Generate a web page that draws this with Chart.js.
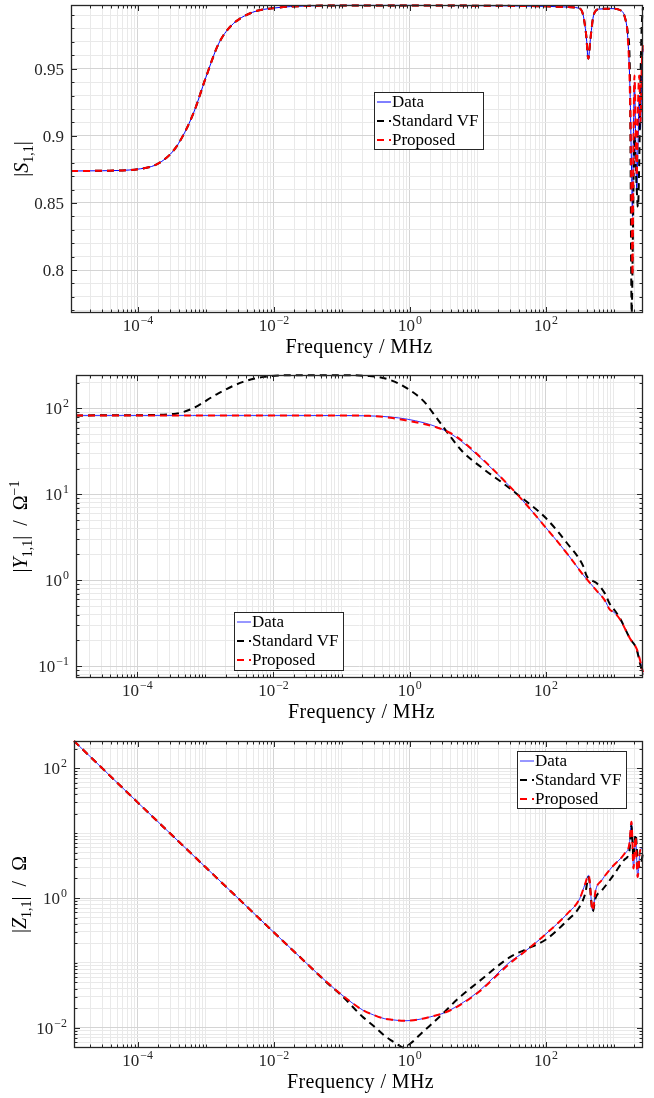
<!DOCTYPE html>
<html>
<head>
<meta charset="utf-8">
<title>|S11|, |Y11|, |Z11| vs frequency</title>
<script src="https://cdn.jsdelivr.net/npm/chart.js@4.4.1/dist/chart.umd.min.js"></script>
<style>
  html, body { margin: 0; padding: 0; background: #fff; }
  .panel { position: absolute; left: 0; width: 654px; height: 366px; }
  canvas { display: block; }
</style>
</head>
<body>
<div class="panel" style="top:0"><canvas id="s11" width="654" height="366"></canvas></div>
<div class="panel" style="top:366px"><canvas id="y11" width="654" height="366"></canvas></div>
<div class="panel" style="top:732px"><canvas id="z11" width="654" height="366"></canvas></div>
<script>
// ---- |S11| (linear) ----
const s11Freq = [1.035e-5, 3e-5, 1e-4, 2.09e-4, 3.68e-4, 6.5e-4, 1e-3, 1.53e-3, 2.34e-3, 4.8e-3,
  1.03e-2, 3e-2, 0.1, 1, 10, 100, 200, 299, 350, 390,
  419, 450, 490, 525, 620, 925, 1297, 1452, 1585, 1718,
  1820, 1870, 1930, 2000, 2080, 2160, 2250, 2350, 2450, 2550, 2670];
const s11Data = [0.8738, 0.8740, 0.8752, 0.8800, 0.8920, 0.9165, 0.9438, 0.9685, 0.982, 0.992,
  0.9953, 0.9968, 0.9972, 0.9972, 0.997, 0.9965, 0.996, 0.9952, 0.9905, 0.975,
  0.9575, 0.972, 0.9875, 0.9925, 0.9945, 0.9948, 0.993, 0.988, 0.975, 0.935,
  0.87, 0.84, 0.90, 0.94, 0.90, 0.86, 0.89, 0.93, 0.905, 0.945, 0.965];
const s11StdVF = [0.8738, 0.8740, 0.8752, 0.8800, 0.8920, 0.9165, 0.9438, 0.9685, 0.982, 0.992,
  0.9953, 0.9968, 0.9972, 0.9972, 0.997, 0.9965, 0.996, 0.9952, 0.9905, 0.975,
  0.9575, 0.972, 0.9875, 0.9925, 0.9945, 0.9948, 0.993, 0.988, 0.978, 0.945,
  0.768, 0.80, 0.86, 0.90, 0.88, 0.86, 0.847, 0.88, 0.94, 0.98, 0.996];
const s11Proposed = [0.8738, 0.8740, 0.8752, 0.8800, 0.8920, 0.9165, 0.9438, 0.9685, 0.982, 0.992,
  0.9953, 0.9968, 0.9972, 0.9972, 0.997, 0.9965, 0.996, 0.9952, 0.9905, 0.975,
  0.9575, 0.972, 0.9875, 0.9925, 0.9945, 0.9948, 0.993, 0.988, 0.975, 0.93,
  0.84, 0.796, 0.89, 0.945, 0.91, 0.87, 0.92, 0.945, 0.91, 0.95, 0.97];
const s11TickValues = [0.8, 0.85, 0.9, 0.95];
const s11TickLabels = ['0.8', '0.85', '0.9', '0.95'];

// ---- |Y11| (log) ----
const y11Freq = [1.26e-5, 1e-4, 3.68e-4, 6.5e-4, 1.53e-3, 3.58e-3, 7.3e-3, 1.98e-2, 8.2e-2, 0.255,
  0.522, 0.92, 1.63, 2.5, 3.82, 5.86, 11.9, 24.3, 42.9, 100,
  205, 355, 398, 450, 555, 738, 870, 1000, 1230, 1720, 2150, 2400, 2670];
const y11Data = [83, 83, 83, 83, 83, 83, 83, 83, 82.8, 82,
  79.5, 75, 68, 61, 52, 41, 25, 14.5, 9.0, 4.1,
  2.05, 1.15, 1.03, 0.92, 0.76, 0.58, 0.455, 0.425, 0.35, 0.21, 0.16, 0.12, 0.085];
const y11StdVF = [83, 83.5, 87, 100, 149, 204, 233, 244, 244, 238,
  214, 171, 120, 77, 49, 32, 20, 13.2, 9.3, 5.3,
  2.7, 1.45, 1.12, 1.02, 0.93, 0.7, 0.53, 0.46, 0.36, 0.21, 0.158, 0.11, 0.08];
const y11Proposed = [83, 83, 83, 83, 83, 83, 83, 83, 82.8, 82,
  78, 72, 66, 60, 52.5, 42, 25.5, 14.5, 9.0, 4.1,
  2.05, 1.15, 1.03, 0.92, 0.76, 0.58, 0.455, 0.425, 0.35, 0.21, 0.16, 0.12, 0.085];
const y11TickValues = [0.1, 1, 10, 100];
const y11TickExps = ['\u22121', '0', '1', '2'];

// ---- |Z11| (log) ----
const z11Freq = [1.16e-5, 1e-4, 1e-3, 1e-2, 0.03, 0.06, 0.101, 0.2, 0.294, 0.43,
  0.56, 0.69, 0.8, 1.03, 1.52, 2.0, 3.09, 5.08, 10.4, 30,
  49, 100, 205, 314, 378, 424, 487, 537, 661, 937,
  1425, 1686, 1807, 1937, 2076, 2226, 2423, 2670];
const z11Data = [262, 29.7, 2.97, 0.297, 0.1, 0.051, 0.032, 0.019, 0.0158, 0.0138,
  0.0133, 0.013, 0.0129, 0.013, 0.0138, 0.0148, 0.0168, 0.022, 0.037, 0.105,
  0.15, 0.28, 0.57, 0.98, 1.67, 2.24, 0.64, 1.3, 1.88, 3.0,
  4.8, 6.9, 15, 2.85, 8.8, 2.1, 5.4, 6];
const z11StdVF = [262, 29.7, 2.97, 0.297, 0.1, 0.05, 0.031, 0.015, 0.0107, 0.0075,
  0.0062, 0.0054, 0.0050, 0.0058, 0.0085, 0.011, 0.0168, 0.028, 0.052, 0.124,
  0.16, 0.23, 0.45, 0.74, 1.17, 2.1, 0.62, 1.0, 1.3, 2.1,
  3.9, 5.3, 13, 4.2, 9.6, 4.2, 3, 5];
const z11Proposed = [262, 29.7, 2.97, 0.297, 0.1, 0.051, 0.032, 0.019, 0.0158, 0.0138,
  0.0133, 0.013, 0.0129, 0.013, 0.0138, 0.0148, 0.0168, 0.0215, 0.036, 0.1,
  0.15, 0.28, 0.57, 0.98, 1.67, 2.24, 0.64, 1.3, 1.88, 3.0,
  4.8, 6.9, 15, 2.85, 8.8, 2.1, 5.4, 6];
const z11TickValues = [0.01, 1, 100];
const z11TickExps = ['\u22122', '0', '2'];

// shared frequency axis labels (MHz)
const freqTickValues = [1e-4, 1e-2, 1, 1e2];
const freqTickExps = ['\u22124', '\u22122', '0', '2'];
const seriesLabels = ['Data', 'Standard VF', 'Proposed'];

const FONT = "'Liberation Serif', 'DejaVu Serif', serif";
const INK = '#262626';

const near = (a, b) => Math.abs(a - b) <= Math.abs(b) * 1e-6;

// every 1..9 x 10^n inside the range, for log grids
function logGrid(min, max) {
  const out = [];
  for (let e = Math.floor(Math.log10(min)); e <= Math.ceil(Math.log10(max)); e++) {
    for (let m = 1; m < 10; m++) {
      const v = m * Math.pow(10, e);
      if (v >= min * 0.9999 && v <= max * 1.0001) out.push(v);
    }
  }
  return out;
}
function linGrid(min, max, step) {
  const out = [];
  for (let k = Math.ceil(min / step - 1e-9); k * step <= max + 1e-9; k++) out.push(+(k * step).toFixed(6));
  return out;
}

function axis(type, min, max, grid, majors, fit) {
  return {
    type, min, max,
    afterBuildTicks: s => { s.ticks = grid.map(v => ({ value: v })); },
    afterFit: fit,
    ticks: { display: false },
    grid: {
      drawTicks: false,
      lineWidth: 1,
      color: c => (c.tick && majors.some(m => near(c.tick.value, m))) ? '#d4d4d4' : '#e9e9e9'
    },
    border: { display: false }
  };
}

function drawPow(ctx, base, exp, x, y, align, size) {
  ctx.font = size + 'px ' + FONT;
  const wb = ctx.measureText(base).width;
  ctx.font = (size * 0.7) + 'px ' + FONT;
  const we = exp ? ctx.measureText(exp).width + 1 : 0;
  const w = wb + we;
  const x0 = align === 'center' ? x - w / 2 : x - w;
  ctx.textAlign = 'left';
  ctx.font = size + 'px ' + FONT;
  ctx.fillText(base, x0, y);
  if (exp) {
    ctx.font = (size * 0.7) + 'px ' + FONT;
    ctx.fillText(exp, x0 + wb + 1, y - size * 0.42);
  }
}

// rotated axis title built from plain / italic / sub / sup pieces
function drawRich(ctx, parts, cx, cy, size) {
  const fontOf = p => (p.it ? 'italic ' : '') + ((p.sub || p.sup) ? size * 0.7 : size) + 'px ' + FONT;
  const widths = parts.map(p => { ctx.font = fontOf(p); return ctx.measureText(p.t).width; });
  const total = widths.reduce((a, b) => a + b, 0);
  ctx.save();
  ctx.translate(cx, cy);
  ctx.rotate(-Math.PI / 2);
  ctx.textAlign = 'left';
  let x = -total / 2;
  parts.forEach((p, i) => {
    ctx.font = fontOf(p);
    const dy = p.sub ? size * 0.25 : p.sup ? -size * 0.42 : 0;
    ctx.fillText(p.t, x, size * 0.35 + dy);
    x += widths[i];
  });
  ctx.restore();
}

const decor = {
  id: 'decor',
  afterDraw(chart, _args, o) {
    const { ctx, chartArea: a } = chart;
    const xs = chart.scales.x, ys = chart.scales.y;
    ctx.save();

    // inward tick marks on all four sides
    ctx.strokeStyle = INK;
    ctx.lineWidth = 1;
    ctx.beginPath();
    for (const t of xs.ticks) {
      const px = Math.round(xs.getPixelForValue(t.value)) + 0.5;
      const len = o.xMajor.some(m => near(t.value, m)) ? 6 : 3.5;
      ctx.moveTo(px, a.bottom); ctx.lineTo(px, a.bottom - len);
      ctx.moveTo(px, a.top); ctx.lineTo(px, a.top + len);
    }
    for (const t of ys.ticks) {
      const py = Math.round(ys.getPixelForValue(t.value)) + 0.5;
      const len = o.yMajor.some(m => near(t.value, m)) ? 6 : 3.5;
      ctx.moveTo(a.left, py); ctx.lineTo(a.left + len, py);
      ctx.moveTo(a.right, py); ctx.lineTo(a.right - len, py);
    }
    ctx.stroke();

    // axes box
    ctx.lineWidth = 1.3;
    ctx.strokeRect(a.left + 0.5, a.top + 0.5, a.right - a.left - 1, a.bottom - a.top - 1);

    // tick labels
    ctx.fillStyle = INK;
    ctx.textBaseline = 'alphabetic';
    freqTickValues.forEach((v, i) => {
      drawPow(ctx, '10', freqTickExps[i], xs.getPixelForValue(v), a.bottom + 18, 'center', 17);
    });
    o.yValues.forEach((v, i) => {
      const py = ys.getPixelForValue(v);
      drawPow(ctx, o.yBases[i], o.yExps[i], a.left - 7, py + 6, 'right', 17);
    });

    // axis titles
    ctx.fillStyle = '#000';
    ctx.font = '20px ' + FONT;
    ctx.letterSpacing = '0.4px';
    ctx.textAlign = 'center';
    ctx.fillText('Frequency / MHz', (a.left + a.right) / 2 + 2, a.bottom + 40);
    ctx.letterSpacing = '0px';
    drawRich(ctx, o.yTitle, o.yTitleX, (a.top + a.bottom) / 2, 20);

    // legend box
    const L = o.legend;
    ctx.fillStyle = '#fff';
    ctx.fillRect(L.x, L.y, L.w, L.h);
    ctx.strokeStyle = INK;
    ctx.lineWidth = 1;
    ctx.strokeRect(L.x + 0.5, L.y + 0.5, L.w, L.h);
    chart.data.datasets.forEach((d, i) => {
      const cy = L.y + 10 + i * 19;
      ctx.strokeStyle = d.borderColor;
      ctx.lineWidth = d.borderWidth;
      ctx.setLineDash(d.borderDash || []);
      ctx.beginPath();
      ctx.moveTo(L.x + 3, cy); ctx.lineTo(L.x + 17, cy);
      ctx.stroke();
      ctx.setLineDash([]);
      ctx.fillStyle = '#000';
      ctx.textAlign = 'left';
      ctx.font = '17px ' + FONT;
      ctx.fillText(d.label, L.x + 18, cy + 5);
    });
    ctx.restore();
  }
};

function series(freq, vals, i, dataColor) {
  const styles = [
    { borderColor: dataColor, borderWidth: 1, order: 3 },
    { borderColor: '#000000', borderWidth: 2, borderDash: [7, 5], order: 2 },
    { borderColor: '#ff0000', borderWidth: 2, borderDash: [7, 5], order: 1 }
  ];
  return Object.assign({
    label: seriesLabels[i],
    data: freq.map((f, k) => ({ x: f, y: vals[k] })),
    pointRadius: 0,
    fill: false,
    clip: 1,
    cubicInterpolationMode: 'monotone'
  }, styles[i]);
}

function panel(id, p) {
  const xGrid = logGrid(p.xMin, p.xMax);
  return new Chart(document.getElementById(id), {
    type: 'line',
    data: {
      datasets: [
        series(p.freq, p.data, 0, p.dataColor),
        series(p.freq, p.vf, 1),
        series(p.freq, p.prop, 2)
      ]
    },
    options: {
      responsive: false,
      animation: false,
      events: [],
      layout: { padding: { top: p.top, right: 11, left: 0, bottom: 0 } },
      scales: {
        x: axis('logarithmic', p.xMin, p.xMax, xGrid, freqTickValues, s => { s.height = p.xHeight; }),
        y: axis(p.yType, p.yMin, p.yMax, p.yGrid, p.yValues, s => { s.width = p.left; })
      },
      plugins: {
        legend: { display: false },
        tooltip: { enabled: false },
        decor: {
          xMajor: freqTickValues,
          yMajor: p.yValues,
          yValues: p.yValues,
          yBases: p.yBases,
          yExps: p.yExps,
          yTitle: p.yTitle,
          yTitleX: p.yTitleX,
          legend: p.legend
        }
      }
    },
    plugins: [decor]
  });
}

panel('s11', {
  freq: s11Freq, data: s11Data, vf: s11StdVF, prop: s11Proposed, dataColor: '#0000ff',
  xMin: 1.035e-5, xMax: 2670,
  yType: 'linear', yMin: 0.768, yMax: 0.9975, yGrid: linGrid(0.768, 0.9975, 0.01),
  yValues: s11TickValues, yBases: s11TickLabels, yExps: s11TickLabels.map(() => ''),
  left: 71, top: 5, xHeight: 53,
  yTitle: [{ t: '|' }, { t: 'S', it: 1 }, { t: '1,1', sub: 1 }, { t: '|' }], yTitleX: 21,
  legend: { x: 374, y: 92, w: 109, h: 57 }
});

panel('y11', {
  freq: y11Freq, data: y11Data, vf: y11StdVF, prop: y11Proposed, dataColor: '#3030ff',
  xMin: 1.26e-5, xMax: 2670,
  yType: 'logarithmic', yMin: 0.073, yMax: 245, yGrid: logGrid(0.073, 245),
  yValues: y11TickValues, yBases: y11TickValues.map(() => '10'), yExps: y11TickExps,
  left: 76, top: 9, xHeight: 54,
  yTitle: [{ t: '|' }, { t: 'Y', it: 1 }, { t: '1,1', sub: 1 }, { t: '|  /  \u03A9' }, { t: '\u22121', sup: 1 }], yTitleX: 20,
  legend: { x: 234, y: 246, w: 109, h: 58 }
});

panel('z11', {
  freq: z11Freq, data: z11Data, vf: z11StdVF, prop: z11Proposed, dataColor: '#3030ff',
  xMin: 1.16e-5, xMax: 2670,
  yType: 'logarithmic', yMin: 0.0049, yMax: 262, yGrid: logGrid(0.0049, 262),
  yValues: z11TickValues, yBases: z11TickValues.map(() => '10'), yExps: z11TickExps,
  left: 74, top: 9, xHeight: 50,
  yTitle: [{ t: '|' }, { t: 'Z', it: 1 }, { t: '1,1', sub: 1 }, { t: '|  /  \u03A9' }], yTitleX: 19,
  legend: { x: 517, y: 19, w: 109, h: 57 }
});
</script>
</body>
</html>
